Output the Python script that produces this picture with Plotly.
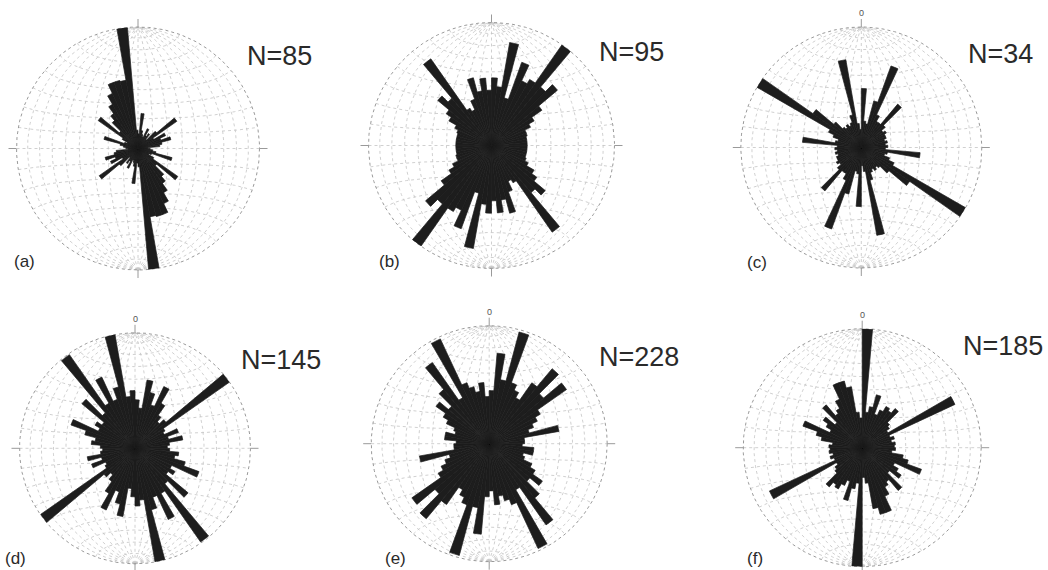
import numpy as np
import plotly.graph_objects as go

W, H = 1048, 570

# ---- data: 5-degree bins from 0 to 180 (axial data, mirrored to 180-360) ----
bin_starts = list(range(0, 180, 5))
panel_labels = ["(a)", "(b)", "(c)", "(d)", "(e)", "(f)"]
n_labels = ["N=85", "N=95", "N=34", "N=145", "N=228", "N=185"]

rose_a = [0.12, 0.29, 0.15, 0.12, 0.10, 0.18, 0.12, 0.15, 0.10, 0.20, 0.39, 0.15,
          0.25, 0.20, 0.28, 0.20, 0.18, 0.08, 0.10, 0.12, 0.15, 0.29, 0.12, 0.10,
          0.15, 0.40, 0.20, 0.30, 0.35, 0.42, 0.50, 0.58, 0.58, 0.57, 1.00, 0.15]
rose_b = [0.55, 0.48, 0.85, 0.40, 0.72, 0.58, 0.62, 1.00, 0.62, 0.70, 0.50, 0.40,
          0.35, 0.30, 0.30, 0.29, 0.29, 0.29, 0.29, 0.29, 0.29, 0.29, 0.30, 0.33,
          0.40, 0.45, 0.57, 0.50, 0.86, 0.35, 0.32, 0.40, 0.57, 0.45, 0.55, 0.45]
rose_c = [0.49, 0.22, 0.20, 0.40, 0.72, 0.30, 0.25, 0.25, 0.47, 0.26, 0.22, 0.24,
          0.22, 0.22, 0.20, 0.22, 0.20, 0.22, 0.20, 0.49, 0.22, 0.20, 0.25, 0.30,
          1.00, 0.49, 0.30, 0.22, 0.20, 0.22, 0.20, 0.22, 0.28, 0.74, 0.20, 0.15]
rose_d = [0.42, 0.35, 0.60, 0.50, 0.40, 0.59, 0.45, 0.35, 0.30, 0.35, 1.00, 0.30,
          0.28, 0.40, 0.30, 0.42, 0.30, 0.28, 0.30, 0.38, 0.35, 0.45, 0.59, 0.35,
          0.40, 0.35, 0.60, 0.40, 0.99, 0.45, 0.68, 0.45, 0.55, 1.00, 0.45, 0.50]
rose_e = [0.45, 0.77, 0.55, 0.98, 0.55, 0.50, 0.45, 0.63, 0.83, 0.60, 0.80, 0.50,
          0.45, 0.40, 0.35, 0.60, 0.30, 0.30, 0.28, 0.38, 0.38, 0.30, 0.32, 0.40,
          0.45, 0.55, 0.45, 0.60, 0.84, 0.45, 0.98, 0.55, 0.50, 0.45, 0.52, 0.40]
rose_f = [1.00, 0.30, 0.35, 0.46, 0.30, 0.35, 0.40, 0.38, 0.43, 0.30, 0.28, 0.25,
          0.86, 0.25, 0.28, 0.25, 0.28, 0.27, 0.28, 0.25, 0.35, 0.40, 0.53, 0.30,
          0.35, 0.40, 0.30, 0.47, 0.35, 0.38, 0.45, 0.58, 0.58, 0.52, 0.30, 0.25]
roses = [rose_a, rose_b, rose_c, rose_d, rose_e, rose_f]

# ---- layout geometry (pixels): centre x, centre y (from top), radius ----
geom = [(138.0, 148.5, 121.5), (491.5, 145.5, 123.0), (861.3, 147.5, 120.5),
        (135.0, 448.3, 115.5), (489.2, 443.7, 118.0), (862.2, 447.7, 119.0)]
n_pos = [(245, 56), (597, 52), (966, 54), (239, 360), (597, 357), (961, 346)]
p_pos = [(12, 261), (377, 261), (745, 262), (3, 558), (383, 558), (745, 558)]
show_zero = [False, False, True, True, True, True]

fig = go.Figure()

# ---- stereonet (equal-area, N-S polar axis) drawn in a background pixel frame ----
def proj(X, Y, Z):
    k = 1.0 / np.sqrt(1.0 + Z)
    return X * k, Y * k

def net_lines(cx, cy, R):
    xs, ys = [], []
    t = np.radians(np.linspace(-90, 90, 181))
    for lam in range(-80, 81, 10):
        L = np.radians(lam)
        X = np.cos(t) * np.sin(L); Y = np.sin(t); Z = np.cos(t) * np.cos(L)
        x, y = proj(X, Y, Z)
        xs += list(cx + R * x) + [None]; ys += list(cy - R * y) + [None]
    for phi in range(-80, 81, 10):
        P = np.radians(phi)
        X = np.cos(P) * np.sin(t); Y = np.full_like(t, np.sin(P)); Z = np.cos(P) * np.cos(t)
        x, y = proj(X, Y, Z)
        xs += list(cx + R * x) + [None]; ys += list(cy - R * y) + [None]
    return xs, ys

for (cx, cy, R) in geom:
    xs, ys = net_lines(cx, cy, R)
    fig.add_trace(go.Scatter(x=xs, y=ys, mode="lines", hoverinfo="skip", showlegend=False,
                             line=dict(color="#c4c4c4", width=0.8, dash="dot")))
    a = np.linspace(0, 2 * np.pi, 361)
    fig.add_trace(go.Scatter(x=cx + R * np.cos(a), y=cy + R * np.sin(a), mode="lines",
                             hoverinfo="skip", showlegend=False,
                             line=dict(color="#9a9a9a", width=1, dash="dot")))
    tx = [cx + R, cx + R + 8, None, cx - R - 8, cx - R, None, cx, cx, None, cx, cx]
    ty = [cy, cy, None, cy, cy, None, cy - R - 8, cy - R, None, cy + R, cy + R + 8]
    fig.add_trace(go.Scatter(x=tx, y=ty, mode="lines", hoverinfo="skip", showlegend=False,
                             line=dict(color="#9a9a9a", width=1)))

# ---- rose diagrams ----
BAR = "#1d1d1d"
theta = [s + 2.5 for s in bin_starts] + [s + 182.5 for s in bin_starts]
layout_polars = {}
for i, (vals, (cx, cy, R)) in enumerate(zip(roses, geom)):
    pid = "polar" if i == 0 else f"polar{i+1}"
    fig.add_trace(go.Barpolar(r=list(vals) + list(vals), theta=theta, width=5,
                              marker=dict(color=BAR, line=dict(color=BAR, width=0.7)),
                              subplot=pid, showlegend=False, hoverinfo="skip"))
    layout_polars[pid] = dict(
        domain=dict(x=[(cx - R) / W, (cx + R) / W], y=[(H - cy - R) / H, (H - cy + R) / H]),
        bgcolor="rgba(0,0,0,0)", bargap=0,
        angularaxis=dict(rotation=90, direction="clockwise", showgrid=False, showline=False,
                         showticklabels=False, ticks=""),
        radialaxis=dict(range=[0, 1], visible=False, showgrid=False))

annotations = []
for i, (cx, cy, R) in enumerate(geom):
    nx, ny = n_pos[i]
    annotations.append(dict(x=nx / W, y=1 - ny / H, xref="paper", yref="paper", text=n_labels[i],
                            showarrow=False, xanchor="left", yanchor="middle",
                            font=dict(family="Liberation Sans, Arial", size=27, color="#2a2a2a")))
    px, py = p_pos[i]
    annotations.append(dict(x=px / W, y=1 - py / H, xref="paper", yref="paper", text=panel_labels[i],
                            showarrow=False, xanchor="left", yanchor="middle",
                            font=dict(family="Liberation Sans, Arial", size=17, color="#2a2a2a")))
    if show_zero[i]:
        annotations.append(dict(x=cx / W, y=1 - (cy - R - 14) / H, xref="paper", yref="paper",
                                text="0", showarrow=False, xanchor="center", yanchor="middle",
                                font=dict(family="Liberation Sans, Arial", size=9, color="#555555")))

fig.update_layout(
    width=W, height=H, margin=dict(l=0, r=0, t=0, b=0),
    paper_bgcolor="white", plot_bgcolor="white", showlegend=False,
    xaxis=dict(range=[0, W], domain=[0, 1], visible=False, fixedrange=True),
    yaxis=dict(range=[H, 0], domain=[0, 1], visible=False, fixedrange=True),
    annotations=annotations,
    **layout_polars)

fig.write_html("out.html", config={"displayModeBar": False, "staticPlot": True},
               post_script="document.body.style.margin='0';document.body.style.padding='0';")
